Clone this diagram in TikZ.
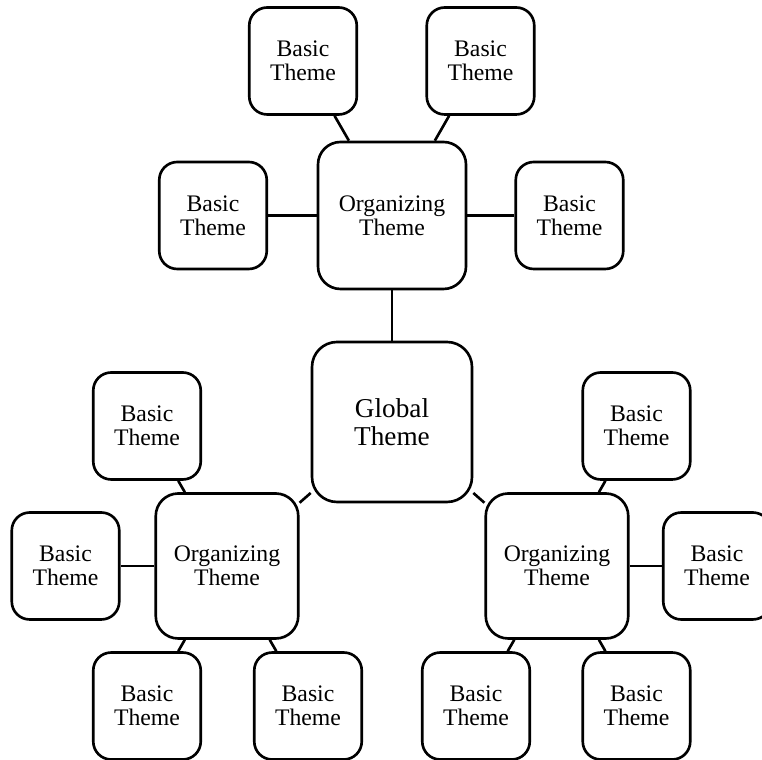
\documentclass[tikz,border=0pt]{standalone}
\usepackage{fontspec}
\setmainfont{Liberation Serif}
\usetikzlibrary{positioning}
\tikzset{
  themebox/.style={draw=black,line width=1.5pt,fill=white,align=center,inner sep=0pt},
  globalbox/.style={themebox,minimum width=3.2cm,minimum height=3.2cm,rounded corners=0.5cm,
        font=\fontsize{15.5}{16}\selectfont},
  orgbox/.style={themebox,minimum width=2.85cm,minimum height=2.9cm,rounded corners=0.45cm,
        font=\fontsize{13.5}{13.6}\selectfont},
  basicbox/.style={themebox,minimum width=2.15cm,minimum height=2.14cm,rounded corners=0.36cm,
        font=\fontsize{13.5}{13.6}\selectfont},
  link/.style={draw=black,line width=1.5pt}
}
\begin{document}
\begin{tikzpicture}
  \useasboundingbox (0,0) rectangle (15.24,15.18);
  % global and organizing themes
  \node[globalbox] (glob) at (7.84,6.74) {Global\\Theme};
  \node[orgbox,minimum width=2.96cm,minimum height=2.94cm] (orgT) at (7.84,10.87) {Organizing\\Theme};
  \node[orgbox] (orgL) at (4.54,3.86) {Organizing\\Theme};
  \node[orgbox] (orgR) at (11.14,3.86) {Organizing\\Theme};
  % basic themes, top
  \node[basicbox] (bT1) at (6.06,13.96) {Basic\\Theme};
  \node[basicbox] (bT2) at (9.61,13.96) {Basic\\Theme};
  \node[basicbox] (bT3) at (4.26,10.87) {Basic\\Theme};
  \node[basicbox] (bT4) at (11.39,10.87) {Basic\\Theme};
  % basic themes, left
  \node[basicbox] (bL1) at (2.94,6.66) {Basic\\Theme};
  \node[basicbox] (bL2) at (1.31,3.86) {Basic\\Theme};
  \node[basicbox] (bL3) at (2.94,1.06) {Basic\\Theme};
  \node[basicbox] (bL4) at (6.16,1.06) {Basic\\Theme};
  % basic themes, right
  \node[basicbox] (bR1) at (12.73,6.66) {Basic\\Theme};
  \node[basicbox] (bR2) at (14.34,3.86) {Basic\\Theme};
  \node[basicbox] (bR3) at (9.52,1.06) {Basic\\Theme};
  \node[basicbox] (bR4) at (12.73,1.06) {Basic\\Theme};
  % connectors
  \draw[link] (glob) -- (orgT);
  \draw[link] (glob) -- (orgL);
  \draw[link] (glob) -- (orgR);
  \draw[link] (orgT) -- (bT1);
  \draw[link] (orgT) -- (bT2);
  \draw[link] (orgT) -- (bT3);
  \draw[link] (orgT) -- (bT4);
  \draw[link] (orgL) -- (bL1);
  \draw[link] (orgL) -- (bL2);
  \draw[link] (orgL) -- (bL3);
  \draw[link] (orgL) -- (bL4);
  \draw[link] (orgR) -- (bR1);
  \draw[link] (orgR) -- (bR2);
  \draw[link] (orgR) -- (bR3);
  \draw[link] (orgR) -- (bR4);
\end{tikzpicture}
\end{document}
